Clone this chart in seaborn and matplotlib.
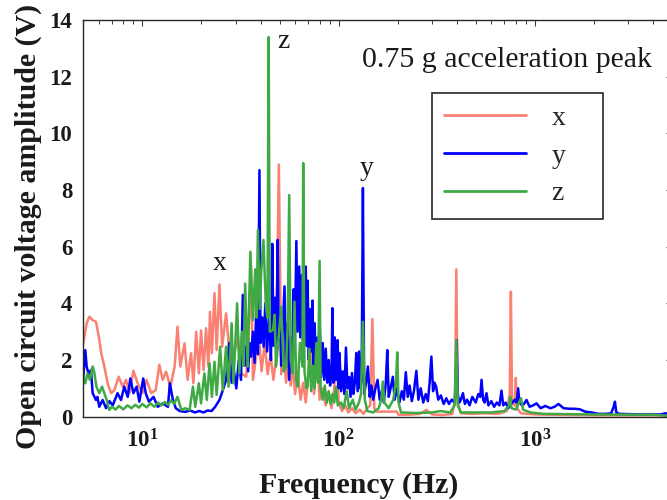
import numpy as np
import pandas as pd
import matplotlib
matplotlib.use("Agg")
import matplotlib.pyplot as plt
from matplotlib.lines import Line2D
from matplotlib.ticker import FuncFormatter, LogLocator, NullFormatter
import seaborn as sns

# ---------------- data ----------------
freq_x = [5.0, 5.2, 5.37, 5.58, 5.8, 6.0, 6.17, 6.4, 6.65, 6.93, 7.2, 7.57, 7.94, 8.26, 8.59,
          9.0, 9.46, 10.0, 10.5, 11.1, 11.7, 12.2, 12.7, 13.2, 13.9, 14.6, 15.1, 15.6, 16.4, 17.0,
          17.7, 18.2, 18.8, 19.4, 19.9, 20.5, 21.1, 21.7, 22.1, 22.6, 23.3, 23.9, 24.7, 25.5, 26.7,
          27.8, 28.9, 30.7, 31.9, 33.8, 34.5, 35.8, 36.6, 37.8, 39.0, 40.5, 42.0, 43.5, 45.0, 46.5,
          48.0, 49.6, 51.0, 52.5, 54.0, 55.5, 57.0, 58.5, 60.0, 62.0, 64.0, 66.0, 68.0, 70.0, 72.5,
          75.0, 77.5, 80.0, 83.0, 86.0, 89.0, 92.0, 95.0, 97.7, 100, 104, 108, 112, 117, 122,
          128, 134, 140, 145, 148.6, 152, 156, 175, 198, 202, 230, 260, 280, 300, 340,
          380, 392, 398, 404, 420, 480, 560, 650, 720, 745, 755, 765, 790, 800, 812,
          850, 1000, 1500, 2500, 5000]
amp_x = [2.59, 3.3, 3.53, 3.41, 3.35, 2.82, 2.24, 1.77, 1.18, 0.83, 0.94, 1.41, 1.06, 1.3, 0.83,
         1.62, 1.18, 0.83, 1.3, 0.83, 0.94, 1.83, 1.3, 1.59, 1.06, 1.77, 3.18, 1.77, 2.59, 1.3,
         2.24, 1.18, 3.0, 1.53, 3.04, 1.65, 3.12, 1.77, 3.7, 2.24, 4.36, 2.35, 4.67, 2.47, 3.65,
         2.24, 2.0, 2.82, 1.53, 1.41, 2.24, 5.3, 1.3, 2.0, 3.0, 1.6, 2.6, 1.5, 2.2, 1.3,
         2.0, 8.9, 1.5, 2.4, 1.2, 2.0, 1.1, 1.8, 0.8, 1.5, 0.6, 1.2, 0.5, 1.4, 2.3,
         0.8, 2.6, 0.6, 1.0, 0.4, 0.8, 0.3, 1.0, 2.65, 0.5, 0.2, 0.4, 0.15, 0.3, 0.12,
         0.25, 0.1, 0.3, 0.4, 3.45, 0.3, 0.18, 0.18, 0.18, 0.07, 0.07, 0.1, 0.24, 0.08, 0.06,
         0.1, 0.6, 5.2, 0.5, 0.12, 0.1, 0.12, 0.1, 0.2, 0.8, 4.41, 0.6, 0.4, 1.37, 0.3,
         0.12, 0.08, 0.06, 0.05, 0.05]

freq_y = [5.0, 5.12, 5.2, 5.37, 5.47, 5.58, 5.8, 5.9, 6.03, 6.27, 6.53, 6.8, 7.06, 7.47, 7.78,
          8.09, 8.42, 8.68, 9.0, 9.35, 9.65, 10.1, 10.4, 10.8, 11.4, 11.97, 12.7, 13.5, 13.8, 14.3,
          14.8, 15.5, 16.5, 17.5, 18.5, 19.5, 20.5, 21.5, 22.5, 23.5, 24.7, 25.6, 26.7, 27.7, 28.5,
          29.3, 30.1, 31.0, 31.8, 32.5, 33.2, 33.8, 34.6, 35.2, 35.8, 36.6, 37.3, 38.0, 38.8, 39.5,
          40.0, 40.8, 41.5, 42.3, 43.2, 44.4, 45.2, 45.9, 46.6, 47.5, 48.2, 48.9, 49.5, 50.2, 51.0,
          52.0, 53.0, 53.8, 55.0, 56.0, 57.0, 58.0, 59.0, 59.8, 60.9, 61.8, 63.0, 63.8, 65.0, 66.0,
          67.0, 68.0, 68.8, 69.5, 70.5, 71.5, 72.5, 73.6, 74.5, 75.5, 76.5, 78.0, 79.0, 80.0, 81.5,
          83.0, 84.5, 86.0, 87.5, 89.0, 90.5, 92.0, 93.0, 94.0, 95.6, 97.0, 98.8, 100, 101, 103,
          105, 107, 109, 111, 113, 115, 117, 119, 121, 123, 125, 127, 129, 131, 133,
          135, 138, 141, 144, 147, 150, 154, 158, 162, 166, 170, 174, 177, 180, 184,
          189, 193, 198, 204, 210, 215, 220, 225, 230, 236, 242, 249, 255, 262, 270,
          278, 285, 291, 297, 303, 308, 314, 322, 332, 343, 354, 365, 377, 390, 395,
          400, 405, 412, 420, 430, 440, 452, 465, 480, 500, 515, 527, 535, 545, 555,
          567, 580, 600, 620, 640, 660, 676, 690, 710, 730, 760, 790, 808, 822, 835,
          860, 880, 907, 940, 980, 1020, 1070, 1130, 1200, 1260, 1320, 1400, 1500, 1600, 1700,
          1800, 1980, 2100, 2300, 2450, 2520, 2560, 2600, 2700, 3500, 4400, 4600, 5000]
amp_y = [1.41, 2.35, 1.77, 1.41, 1.65, 0.83, 0.59, 0.7, 0.35, 0.59, 0.3, 0.55, 0.4, 0.83, 0.59,
         1.06, 0.7, 1.35, 0.83, 1.06, 0.53, 1.35, 0.83, 0.53, 0.7, 0.35, 0.47, 0.35, 1.18, 0.6,
         0.3, 0.2, 0.17, 0.22, 0.15, 0.2, 0.15, 0.22, 0.2, 0.35, 0.59, 0.9, 1.3, 2.6, 1.2,
         1.6, 1.0, 2.0, 1.3, 4.3, 1.8, 2.47, 1.6, 2.6, 2.12, 3.0, 1.9, 3.65, 2.2, 8.7,
         2.6, 3.5, 2.47, 4.0, 2.3, 3.77, 2.0, 6.1, 2.5, 4.2, 2.4, 6.24, 2.7, 3.6, 1.8,
         3.2, 4.6, 1.9, 3.3, 1.3, 2.8, 1.8, 4.5, 2.5, 6.2, 3.0, 5.3, 2.8, 5.0, 2.2,
         4.5, 5.3, 2.5, 4.8, 2.0, 3.8, 2.3, 4.1, 1.8, 3.3, 1.6, 2.8, 1.5, 3.4, 1.4,
         2.6, 1.3, 2.4, 1.2, 2.0, 1.1, 1.6, 3.83, 1.2, 2.8, 1.3, 2.7, 1.0, 2.25, 0.9,
         1.6, 0.8, 2.44, 1.0, 1.4, 0.7, 1.54, 0.8, 1.2, 2.25, 0.9, 2.3, 1.0, 1.3, 8.07,
         0.8, 1.2, 1.77, 0.7, 1.1, 0.6, 1.0, 1.3, 0.6, 0.9, 0.5, 1.2, 2.35, 0.7, 1.0,
         1.41, 0.6, 1.0, 0.5, 0.9, 0.6, 1.57, 0.7, 1.1, 0.55, 0.9, 1.62, 0.6, 1.0, 0.5,
         0.8, 0.55, 1.2, 2.12, 0.9, 1.2, 1.06, 0.6, 0.75, 0.45, 0.65, 0.45, 0.6, 0.5, 1.0,
         2.7, 0.8, 0.5, 0.6, 0.83, 0.45, 0.6, 0.4, 0.7, 0.5, 0.8, 0.7, 1.3, 0.6, 0.5,
         0.83, 0.4, 0.55, 0.35, 0.5, 0.4, 0.92, 0.4, 0.5, 0.3, 0.45, 0.6, 0.5, 1.0, 0.5,
         0.4, 0.45, 0.59, 0.35, 0.4, 0.47, 0.3, 0.38, 0.3, 0.35, 0.45, 0.3, 0.28, 0.28, 0.26,
         0.18, 0.14, 0.1, 0.1, 0.12, 0.35, 0.53, 0.15, 0.1, 0.08, 0.08, 0.12, 0.1]

freq_z = [5.0, 5.12, 5.25, 5.4, 5.58, 5.68, 5.83, 6.03, 6.23, 6.4, 6.58, 6.78, 7.0, 7.3, 7.6,
          8.0, 8.4, 8.8, 9.2, 9.6, 10.0, 10.5, 11.0, 11.5, 12.0, 12.5, 13.0, 13.5, 14.0, 14.5,
          15.1, 15.8, 16.5, 17.4, 18.1, 18.6, 19.4, 19.9, 20.7, 21.3, 22.0, 22.6, 23.3, 23.9, 24.9,
          25.7, 26.7, 27.5, 28.5, 29.1, 30.4, 31.2, 32.2, 32.8, 33.4, 34.4, 35.5, 36.6, 37.6, 38.2,
          38.8, 39.6, 40.4, 41.4, 42.6, 43.4, 44.0, 44.6, 46.3, 47.2, 48.0, 49.5, 51.0, 52.5, 54.0,
          55.0, 56.0, 57.0, 58.4, 59.6, 60.8, 62.0, 63.5, 65.4, 66.0, 67.0, 68.5, 69.5, 71.0, 72.5,
          74.0, 75.5, 77.0, 78.5, 80.0, 81.0, 83.0, 85.0, 87.0, 89.0, 91.0, 93.0, 95.0, 97.0, 99.0,
          103, 106, 110, 113, 118, 122, 127, 130, 133, 136, 140, 150, 160, 165, 168,
          171, 180, 190, 196, 199, 202, 208, 250, 300, 330, 370, 390, 398, 405, 420,
          500, 600, 700, 740, 750, 760, 800, 850, 870, 950, 1100, 2000, 4000, 4600, 5000]
amp_z = [1.41, 1.18, 1.53, 1.3, 1.77, 1.59, 1.06, 0.83, 1.06, 0.83, 0.59, 0.24, 0.35, 0.25, 0.38,
         0.26, 0.4, 0.3, 0.42, 0.32, 0.45, 0.33, 0.47, 0.35, 0.5, 0.4, 0.52, 0.42, 0.58, 0.45,
         0.7, 0.24, 0.3, 0.24, 1.06, 0.35, 1.18, 0.47, 1.53, 0.59, 1.88, 0.7, 1.94, 0.77, 2.47,
         0.94, 2.47, 1.06, 3.3, 1.18, 4.0, 1.53, 3.0, 1.8, 4.7, 1.77, 5.82, 3.41, 5.2, 3.5,
         6.59, 3.8, 5.18, 6.24, 3.88, 3.5, 13.4, 3.0, 3.06, 3.6, 1.77, 2.8, 3.88, 1.6, 1.77,
         3.2, 7.82, 2.0, 1.53, 4.06, 1.3, 1.06, 2.6, 1.77, 8.95, 1.6, 1.0, 1.06, 2.4, 0.9,
         1.8, 1.0, 2.6, 1.2, 5.5, 1.0, 0.6, 1.1, 0.5, 0.9, 0.45, 0.8, 0.5, 1.06, 0.4,
         0.5, 0.3, 0.9, 0.3, 0.6, 0.25, 0.5, 0.8, 3.35, 0.6, 0.2, 0.15, 0.3, 0.6, 1.24,
         0.5, 0.3, 0.6, 1.2, 2.27, 0.5, 0.15, 0.13, 0.15, 0.2, 0.15, 0.4, 2.7, 0.4, 0.15,
         0.15, 0.15, 0.2, 0.4, 0.7, 0.3, 0.25, 0.65, 0.25, 0.15, 0.1, 0.08, 0.07, 0.04, 0.02]

axis_names = ["x", "y", "z"]
palette = {"x": "#FA8072", "y": "#0000FF", "z": "#3FAA44"}
y_ticks = [0, 2, 4, 6, 8, 10, 12, 14]

df = pd.concat([
    pd.DataFrame({"freq": freq_x, "amp": amp_x, "axis": "x"}),
    pd.DataFrame({"freq": freq_y, "amp": amp_y, "axis": "y"}),
    pd.DataFrame({"freq": freq_z, "amp": amp_z, "axis": "z"}),
], ignore_index=True)

# ---------------- styling ----------------
sns.set_theme(style="white")
plt.rcParams["font.family"] = ["Liberation Serif", "DejaVu Serif"]
plt.rcParams["mathtext.fontset"] = "custom"
plt.rcParams["mathtext.rm"] = "Liberation Serif:bold"
plt.rcParams["mathtext.bf"] = "Liberation Serif:bold"
plt.rcParams["mathtext.it"] = "Liberation Serif:bold:italic"

fig = plt.figure(figsize=(6.67, 5.0), dpi=100)
ax = fig.add_axes([0.1249, 0.1666, 0.8826, 0.7934])

sns.lineplot(data=df, x="freq", y="amp", hue="axis", hue_order=axis_names,
             palette=palette, estimator=None, sort=False, legend=False,
             linewidth=1.8, ax=ax)

ax.set_xscale("log")
ax.set_xlim(5, 5000)
ax.set_ylim(0, 14)
ax.set_yticks(y_ticks)
ax.xaxis.set_major_locator(LogLocator(base=10))
ax.xaxis.set_minor_locator(LogLocator(base=10, subs=np.arange(2, 10)))
ax.xaxis.set_minor_formatter(NullFormatter())
ax.xaxis.set_major_formatter(FuncFormatter(lambda v, p: r"$\mathbf{10^{%d}}$" % int(round(np.log10(v)))))

for s in ax.spines.values():
    s.set_visible(True)
    s.set_color("#262626")
    s.set_linewidth(1.0)

ax.tick_params(which="both", direction="in", top=True, right=True, colors="#404040",
               labelcolor="#1a1a1a")
ax.tick_params(which="major", length=4.5, width=0.8)
ax.tick_params(which="minor", length=3, width=0.7)
ax.tick_params(axis="x", which="major", labelsize=16.5, pad=9)
ax.tick_params(axis="y", which="major", labelsize=16.5, pad=8)
for lab in ax.get_yticklabels():
    lab.set_fontweight("bold")

ax.set_xlabel("Frequency (Hz)", fontsize=21.5, fontweight="bold", color="#1a1a1a")
ax.set_ylabel("Open circuit voltage amplitude (V)", fontsize=21.5, fontweight="bold", color="#1a1a1a")
ax.xaxis.set_label_coords(0.468, -0.14)
ax.yaxis.set_label_coords(-0.07, 0.48)

# annotations
ax.text(0.4734, 0.8815, "0.75 g acceleration peak", transform=ax.transAxes,
        fontsize=21.5, va="baseline", ha="left", color="#1a1a1a")
ax.text(48.5, 13.0, "z", fontsize=20, va="baseline", ha="left", color="#1a1a1a")
ax.text(139, 8.53, "y", fontsize=20, va="baseline", ha="center", color="#1a1a1a")
ax.text(24.7, 5.17, "x", fontsize=20, va="baseline", ha="center", color="#1a1a1a")

handles = [Line2D([], [], color=palette[k], linewidth=2.0) for k in axis_names]
leg = ax.legend(handles, axis_names, loc="upper left",
                bbox_to_anchor=(0.592, 0.501, 0.291, 0.315), mode="expand",
                borderaxespad=0, fontsize=20, frameon=True, fancybox=False,
                edgecolor="#262626", handlelength=2.95, handletextpad=0.9,
                labelspacing=0.44, borderpad=0.45)
leg.get_frame().set_linewidth(1.2)
leg.get_frame().set_alpha(1)

fig.savefig("out.png", dpi=100)
